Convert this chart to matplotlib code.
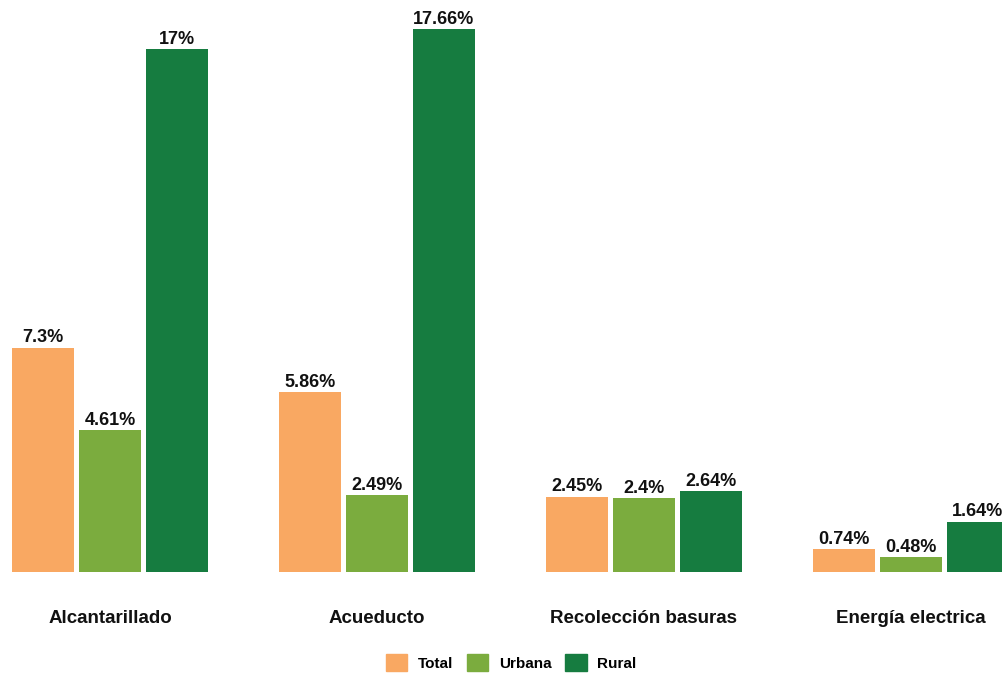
import numpy as np
import matplotlib
matplotlib.use("Agg")
import matplotlib.pyplot as plt
from matplotlib.patches import Patch

plt.rcParams['font.family'] = ['Liberation Sans', 'DejaVu Sans']

categories = ["Alcantarillado", "Acueducto", "Recolección basuras", "Energía electrica"]
series_names = ["Total", "Urbana", "Rural"]
total = [7.3, 5.86, 2.45, 0.74]
urbana = [4.61, 2.49, 2.4, 0.48]
rural = [17, 17.66, 2.64, 1.64]
labels_total = ["7.3%", "5.86%", "2.45%", "0.74%"]
labels_urbana = ["4.61%", "2.49%", "2.4%", "0.48%"]
labels_rural = ["17%", "17.66%", "2.64%", "1.64%"]
colors = ["#F9A862", "#7BAC3E", "#167C40"]

fig = plt.figure(figsize=(10.02, 6.77), dpi=100)
ax = fig.add_axes([0, 0.1551, 1, 0.8449])

x = np.arange(len(categories))
width = 0.232
step = 0.251
series = [total, urbana, rural]
labels = [labels_total, labels_urbana, labels_rural]
for k, (vals, labs) in enumerate(zip(series, labels)):
    pos = x + (k - 1) * step
    ax.bar(pos, vals, width, color=colors[k])
    for p, v, t in zip(pos, vals, labs):
        ax.text(p, v + 0.04, t, ha="center", va="bottom", fontsize=13,
                fontweight="bold", color="#111111")

ax.set_xlim(-0.412, 3.341)
ax.set_ylim(0, 18.6)
ax.axis("off")

for xi, c in zip(x, categories):
    ax.text(xi, -1.5, c, ha="center", va="center", fontsize=13.5,
            fontweight="bold", color="#111111", clip_on=False)

handles = [Patch(color=c) for c in colors]
fig.legend(handles, series_names, loc="center", bbox_to_anchor=(0.51, 0.021),
           ncol=3, frameon=False, handlelength=1.4, handleheight=1.3,
           columnspacing=0.9, handletextpad=0.7, prop={"weight": "bold", "size": 11})

fig.savefig("out.png", dpi=100)
